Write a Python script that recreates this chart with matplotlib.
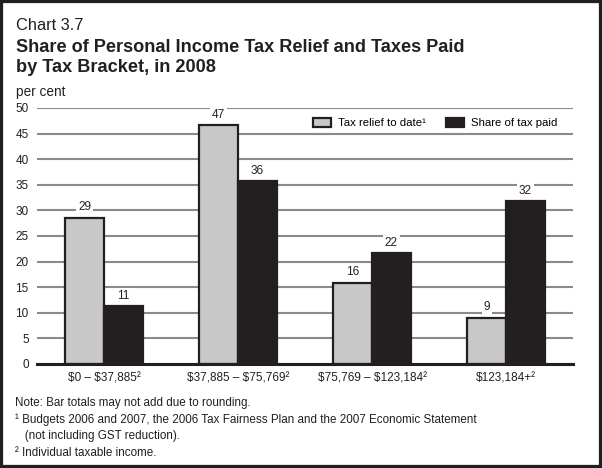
import numpy as np
import matplotlib
matplotlib.use("Agg")
import matplotlib.pyplot as plt
from matplotlib.patches import Rectangle

plt.rcParams['font.family'] = ['Liberation Sans', 'DejaVu Sans']
plt.rcParams['text.parse_math'] = False  # labels contain dollar signs

# data
brackets = ['$0 – $37,885²', '$37,885 – $75,769²', '$75,769 – $123,184²', '$123,184+²']
relief = [28.6, 46.7, 15.9, 9.05]
relief_labels = ['29', '47', '16', '9']
tax_paid = [11.3, 35.8, 21.7, 31.9]
tax_paid_labels = ['11', '36', '22', '32']
yticks = [0, 5, 10, 15, 20, 25, 30, 35, 40, 45, 50]

notes = [
    'Note: Bar totals may not add due to rounding.',
    '¹ Budgets 2006 and 2007, the 2006 Tax Fairness Plan and the 2007 Economic Statement',
    '   (not including GST reduction).',
    '² Individual taxable income.',
]

W, H = 602, 468
dark = '#231f20'
light = '#c8c8c8'
grid = '#8a8a8a'

fig = plt.figure(figsize=(W / 100, H / 100), dpi=100)
ax = fig.add_axes([37 / W, 1 - 364 / H, 536 / W, 256 / H])

x = np.arange(len(brackets))
bw = 0.29
b1 = ax.bar(x - bw / 2, relief, bw, color=light, edgecolor=dark, linewidth=1.6,
            label='Tax relief to date¹', zorder=3)
b2 = ax.bar(x + bw / 2, tax_paid, bw, color=dark, edgecolor=dark, linewidth=1.6,
            label='Share of tax paid', zorder=3)

# value labels above bars
for bars, labs in [(b1, relief_labels), (b2, tax_paid_labels)]:
    for rect, lab in zip(bars, labs):
        ax.annotate(lab, (rect.get_x() + rect.get_width() / 2, rect.get_height()),
                    xytext=(0, 3), textcoords='offset points', ha='center', va='bottom',
                    fontsize=8.5, color=dark, zorder=4,
                    bbox=dict(boxstyle='square,pad=0.15', fc='white', ec='none'))

ax.set_xlim(-0.5, 3.5)
ax.set_ylim(0, 50)
ax.set_yticks(yticks)
ax.set_xticks(x)
ax.set_xticklabels(brackets, fontsize=8.5)
ax.tick_params(axis='y', length=0, pad=6, labelsize=8.5, labelcolor=dark)
ax.tick_params(axis='x', length=0, pad=6, labelcolor=dark)
ax.yaxis.grid(True, color=grid, linewidth=1.5)
ax.set_axisbelow(True)
for s in ['left', 'right', 'top']:
    ax.spines[s].set_visible(False)
ax.spines['bottom'].set_linewidth(2.2)
ax.spines['bottom'].set_color(dark)
ax.spines['bottom'].set_zorder(5)

ax.legend(loc='center right', bbox_to_anchor=(0.971, 0.941), ncol=2, frameon=False,
          fontsize=8.2, handlelength=1.6, handleheight=0.8, handletextpad=0.6,
          columnspacing=1.75, borderaxespad=0, borderpad=0)

# titles
fig.text(16 / W, 1 - 30 / H, 'Chart 3.7', fontsize=11.8, color=dark, va='baseline')
fig.text(16 / W, 1 - 51.5 / H, 'Share of Personal Income Tax Relief and Taxes Paid',
         fontsize=13.1, fontweight='bold', color=dark, va='baseline')
fig.text(16 / W, 1 - 72 / H, 'by Tax Bracket, in 2008',
         fontsize=13.1, fontweight='bold', color=dark, va='baseline')
fig.text(16 / W, 1 - 96 / H, 'per cent', fontsize=9.8, color=dark, va='baseline')

# footnotes
for i, n in enumerate(notes):
    fig.text(15 / W, 1 - (406 + 16.7 * i) / H, n, fontsize=8.4, color=dark, va='baseline')

# frame around the whole chart
fig.patches.append(Rectangle((0, 0), 1, 1, transform=fig.transFigure, fill=False,
                             linewidth=4.5, edgecolor=dark))

fig.savefig('out.png', dpi=100)
